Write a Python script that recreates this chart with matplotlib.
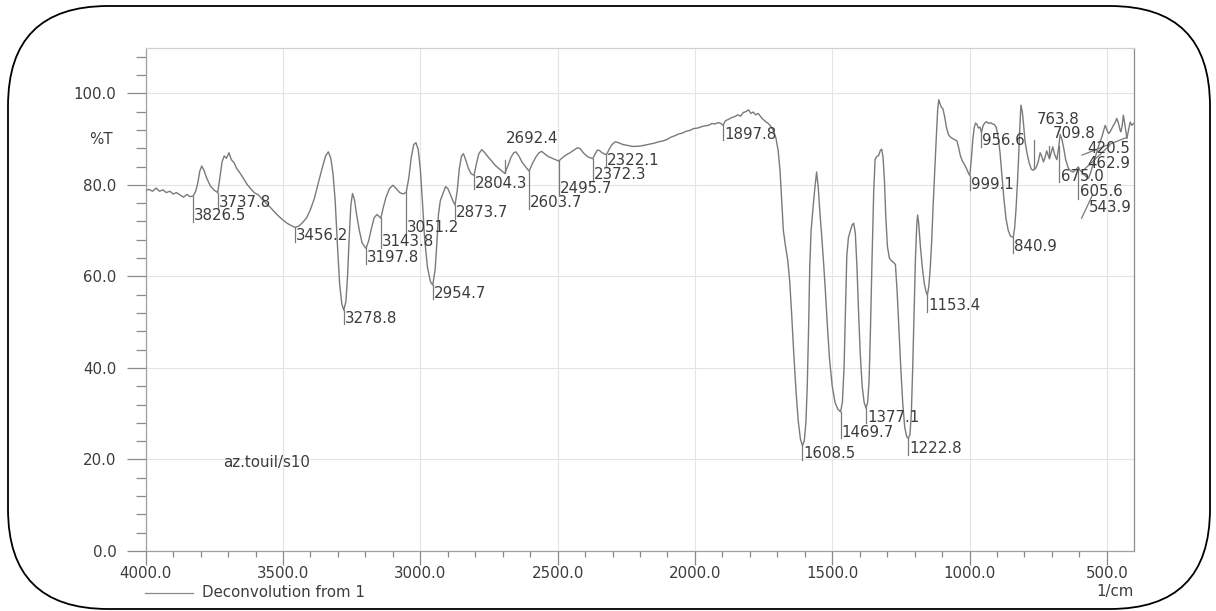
import numpy as np
import matplotlib
matplotlib.use("Agg")
import matplotlib.pyplot as plt
from matplotlib.patches import FancyBboxPatch
from matplotlib.ticker import MultipleLocator, FixedLocator, FormatStrFormatter
import matplotlib.transforms as mtransforms

# ---------------- data ----------------
wavenumber = [
    4000, 3988, 3975, 3962, 3950, 3937, 3925, 3912, 3900, 3888, 3875, 3862, 3850, 3838,
    3826.5, 3818, 3810, 3803, 3796, 3788, 3778, 3765, 3750, 3737.8, 3730, 3722, 3714,
    3706, 3697, 3688, 3678, 3669, 3657, 3645, 3632, 3620, 3605, 3590, 3575, 3560, 3545,
    3530, 3515, 3500, 3485, 3470, 3456.2, 3442, 3428, 3414, 3400, 3386, 3372, 3358, 3345,
    3335, 3326, 3318, 3310, 3302, 3294, 3286, 3278.8, 3271, 3265, 3259, 3253, 3247, 3240,
    3232, 3222, 3212, 3197.8, 3188, 3178, 3168, 3158, 3150, 3143.8, 3135, 3125, 3112, 3100,
    3088, 3075, 3062, 3051.2, 3042, 3033, 3024, 3016, 3008, 3000, 2992, 2984, 2974, 2963,
    2954.7, 2946, 2940, 2934, 2927, 2918, 2908, 2900, 2890, 2880, 2873.7, 2866, 2858, 2850,
    2843, 2835, 2825, 2815, 2804.3, 2796, 2787, 2776, 2765, 2752, 2740, 2728, 2715, 2703,
    2692.4, 2682, 2670, 2660, 2652, 2643, 2630, 2615, 2603.7, 2593, 2580, 2568, 2558, 2548,
    2535, 2520, 2508, 2495.7, 2483, 2470, 2455, 2440, 2428, 2418, 2405, 2390, 2380, 2372.3,
    2363, 2355, 2348, 2338, 2328, 2322.1, 2312, 2302, 2290, 2278, 2262, 2245, 2228, 2212,
    2196, 2180, 2164, 2148, 2132, 2116, 2102, 2088, 2074, 2060, 2046, 2032, 2018, 2004,
    1990, 1976, 1962, 1950, 1938, 1926, 1915, 1905, 1897.8, 1889, 1878, 1866, 1855, 1844,
    1834, 1824, 1814, 1805, 1796, 1788, 1779, 1770, 1762, 1752, 1742, 1733, 1724, 1714,
    1705, 1697, 1690, 1684, 1678, 1670, 1662, 1655, 1648, 1640, 1632, 1624, 1616, 1608.5,
    1602, 1596, 1591, 1586, 1582, 1577, 1570, 1563, 1557, 1551, 1545, 1538, 1531, 1525,
    1518, 1510, 1500, 1490, 1480, 1469.7, 1463, 1457, 1452, 1447, 1441, 1434, 1428, 1422,
    1416, 1410, 1404, 1398, 1391, 1384, 1377.1, 1371, 1366, 1361, 1355, 1349, 1344, 1338,
    1331, 1325, 1320, 1315, 1310, 1305, 1299, 1292, 1284, 1276, 1270, 1264, 1257, 1250,
    1243, 1236, 1229, 1222.8, 1217, 1212, 1207, 1202, 1197, 1192, 1189, 1185, 1179, 1172,
    1165, 1158, 1153.4, 1148, 1143, 1138, 1133, 1127, 1121, 1116, 1112, 1108, 1103, 1097,
    1091, 1084, 1077, 1071, 1064, 1058, 1052, 1046, 1040, 1034, 1027, 1020, 1013, 1006,
    999.1, 993, 988, 983, 978, 973, 968, 962, 956.6, 951, 945, 938, 931, 924, 917, 910,
    903, 896, 889, 882, 875, 867, 859, 851, 845, 840.9, 836, 831, 826, 821, 817, 813, 808,
    803, 798, 791, 783, 775, 768, 763.8, 758, 750, 743, 737, 731, 725, 719, 714, 709, 703,
    697, 691, 686, 682, 676, 670, 664, 658, 650, 640, 631, 622, 616, 610, 604, 598, 591,
    584, 577, 567, 560, 550, 542, 530, 518, 512, 506, 500, 494, 488, 482, 476, 470, 464,
    458, 452, 449, 444, 440, 434, 427, 421, 415, 409, 403,
]
transmittance = [
    78.8, 79.0, 78.6, 79.3, 78.6, 78.9, 78.3, 78.6, 78.0, 78.3, 77.8, 77.3, 77.9, 77.4,
    77.6, 78.6, 80.5, 83.0, 84.1, 83.2, 81.5, 79.8, 78.8, 78.3, 81.5, 85.0, 86.3,
    85.8, 87.0, 85.5, 84.8, 83.6, 82.6, 81.5, 80.2, 79.3, 78.3, 77.8, 76.8, 75.9, 75.0,
    74.0, 73.1, 72.3, 71.6, 71.1, 70.7, 71.0, 71.8, 72.8, 74.6, 77.0, 80.3, 83.5, 86.3,
    87.2, 85.8, 82.5, 76.5, 67.0, 58.5, 54.0, 52.6, 54.5, 60.0, 68.5, 75.5, 78.1, 76.8,
    73.5, 70.0, 67.3, 66.1, 67.8, 70.5, 72.8, 73.5, 73.1, 72.7, 75.0, 77.3, 79.2, 79.9,
    79.2, 78.3, 78.0, 78.4, 81.5, 86.0, 88.8, 89.2, 87.8, 83.5, 76.0, 68.0, 62.0, 58.8,
    58.1, 61.5, 67.0, 73.5, 76.6, 78.0, 79.6, 79.2, 77.8, 76.3, 75.6, 78.5, 83.5, 86.3,
    86.8, 85.5, 83.6, 82.4, 82.1, 84.5, 86.8, 87.7, 87.0, 86.0, 85.2, 84.3, 83.6, 83.0,
    82.5, 84.0, 86.0, 87.0, 87.2, 86.5, 85.0, 83.8, 83.0, 84.5, 86.0, 87.0, 87.3, 86.8,
    86.2, 85.8, 85.5, 85.2, 85.9, 86.5, 87.0, 87.6, 88.1, 87.9, 86.9, 86.1, 85.9, 85.7,
    86.8, 87.6, 87.5, 87.0, 86.7, 86.6, 87.8, 88.8, 89.4, 89.2, 88.8, 88.6, 88.4, 88.4,
    88.5, 88.7, 88.9, 89.1, 89.4, 89.6, 89.9, 90.4, 90.7, 91.1, 91.3, 91.7, 91.9, 92.3,
    92.4, 92.7, 92.9, 93.0, 93.4, 93.3, 93.6, 93.4, 93.0, 94.0, 94.3, 94.7, 94.9, 95.3,
    95.0, 95.8, 96.0, 96.4, 95.6, 95.9, 95.3, 95.6, 95.0, 94.3, 93.8, 93.4, 92.8, 91.8,
    90.2, 87.5, 83.0, 76.5, 70.0, 66.5, 63.5, 59.0, 52.0, 43.0, 35.0, 28.5, 24.5, 23.0,
    24.0, 28.0, 36.0, 49.0, 62.0, 70.0, 75.0, 79.5, 82.8, 79.5, 74.0, 68.5, 62.5, 56.8,
    49.5, 42.0, 36.0, 32.5, 31.0, 30.4, 32.5, 40.0, 52.0, 64.5, 68.5, 70.0, 71.2, 71.6,
    69.5, 62.0, 52.0, 43.0, 36.0, 32.5, 31.2, 32.5, 37.0, 48.0, 64.0, 78.5, 85.5, 86.2,
    86.4, 87.5, 87.8, 86.0, 81.0, 73.0, 66.5, 64.0, 63.4, 63.0, 62.6, 57.0, 48.0, 39.5,
    32.0, 27.0, 25.0, 24.6, 25.5, 30.0, 40.0, 52.0, 64.0, 71.5, 73.4, 71.5, 66.5, 62.0,
    58.5, 56.5, 55.9, 58.0, 62.0, 67.5, 75.0, 83.0, 90.5, 96.5, 98.6, 97.8, 97.0, 96.6,
    95.0, 92.5, 91.0, 90.5, 90.2, 90.0, 89.8, 89.6, 88.2, 86.5, 85.3, 84.6, 83.8, 82.8,
    82.0, 86.0, 90.0, 92.5, 93.5, 93.2, 92.4, 92.6, 91.4, 92.9, 93.5, 93.8, 93.4, 93.6, 93.3, 93.2,
    92.6, 90.5, 87.0, 82.0, 77.0, 72.5, 70.0, 68.8, 68.6, 68.6, 70.5, 74.5, 80.0, 86.5, 92.5, 97.4, 96.0,
    93.0, 89.5, 87.0, 84.8, 83.4, 83.2, 83.4, 83.7, 85.0, 87.0, 86.2, 85.0, 86.0, 87.4, 86.5, 85.7, 87.0,
    88.3, 86.8, 86.0, 85.5, 88.0, 91.0, 90.0, 88.3, 85.5, 83.6, 83.0, 82.8, 83.2, 83.5, 83.9, 83.2, 82.8,
    82.3, 81.9, 81.4, 82.5, 84.5, 86.1, 88.5, 90.5, 91.8, 93.0, 92.0, 91.2, 91.6, 92.3, 93.0, 93.6, 94.5,
    93.5, 92.0, 91.6, 93.0, 95.2, 93.0, 90.1, 92.0, 93.7, 93.0, 93.4,
]

# labelled peaks (wavenumber values printed on the chart)
peak_values = [3826.5, 3737.8, 3456.2, 3278.8, 3197.8, 3143.8, 3051.2, 2954.7, 2873.7,
               2804.3, 2692.4, 2603.7, 2495.7, 2372.3, 2322.1, 1897.8, 1608.5, 1469.7,
               1377.1, 1222.8, 1153.4, 999.1, 956.6, 840.9, 763.8, 709.8, 675.0, 605.6,
               543.9, 462.9, 420.5]

x_ticks = [4000, 3500, 3000, 2500, 2000, 1500, 1000, 500]
y_ticks = [0, 20, 40, 60, 80, 100]
sample_name = "az.touil/s10"
legend_label = "Deconvolution from 1"

# ---------------- layout of peak labels ----------------
# value -> (leader start (x, y) or None, leader end (x, y) or end-y, text x (left) or None, text y (bottom))
label_layout = {
    3826.5: (None, 71.9, None, 71.6),
    3737.8: (None, 74.8, None, 74.5),
    3456.2: (None, 67.5, None, 67.2),
    3278.8: (None, 49.5, None, 49.2),
    3197.8: (None, 62.8, None, 62.5),
    3143.8: (None, 66.3, None, 66.0),
    3051.2: (None, 69.4, None, 69.1),
    2954.7: (None, 55.0, None, 54.7),
    2873.7: (None, 72.6, None, 72.3),
    2804.3: (None, 79.0, None, 78.7),
    2692.4: (None, 85.4, None, 88.4),
    2603.7: (None, 74.8, None, 74.5),
    2495.7: (None, 77.9, None, 77.6),
    2372.3: (None, 81.0, None, 80.7),
    2322.1: (None, 83.9, None, 83.6),
    1897.8: (None, 89.7, None, 89.4),
    1608.5: (None, 19.9, None, 19.6),
    1469.7: (None, 24.6, None, 24.3),
    1377.1: (None, 27.9, None, 27.6),
    1222.8: (None, 21.0, None, 20.7),
    1153.4: (None, 52.3, None, 52.0),
    999.1: (None, 78.8, None, 78.5),
    956.6: (None, 88.3, None, 88.0),
    840.9: (None, 65.2, None, 64.9),
    763.8: (None, 89.8, 755, 92.6),
    709.8: (None, 88.5, 696, 89.6),
    675.0: (None, 80.6, 666, 80.2),
    605.6: (None, 77.0, 596, 76.8),
    543.9: ((592, 72.7), (552, 77.8), 566, 73.5),
    462.9: ((585, 83.2), (490, 88.6), 571, 83.0),
    420.5: ((590, 86.5), (430, 90.3), 571, 86.3),
}

# ---------------- figure ----------------
W, H = 1216, 611
fig = plt.figure(figsize=(W / 100, H / 100), dpi=100)
fig.patch.set_facecolor("white")

FONT = "DejaVu Sans"
FS = 10.8
TXT = "#3c3c3c"
GRAY = "#8a8a8a"
CURVE = "#7a7a7a"

left_px, right_px, top_px, bot_px = 145.7, 1133.5, 47.5, 551.0
ax = fig.add_axes([left_px / W, 1 - bot_px / H, (right_px - left_px) / W, (bot_px - top_px) / H])

ax.set_xlim(4000, 403)
ax.set_ylim(0, 110)

ax.plot(wavenumber, transmittance, color=CURVE, lw=1.0, zorder=3)

# peak labels
wn_inc = np.array(wavenumber[::-1], dtype=float)
t_inc = np.array(transmittance[::-1], dtype=float)
for v in peak_values:
    start, end, tx, ty = label_layout[v]
    if start is None:
        y0 = float(np.interp(v, wn_inc, t_inc))
        ax.plot([v, v], [y0, end], color=CURVE, lw=0.9, zorder=3)
    else:
        ax.plot([start[0], end[0]], [start[1], end[1]], color=CURVE, lw=0.9, zorder=3)
    ax.text(v - 3 if tx is None else tx, ty, f"{v:.1f}", ha="left", va="bottom",
            fontsize=FS, family=FONT, color=TXT, zorder=4)

# sample name
ax.text(3718, 19.4, sample_name, ha="left", va="center", fontsize=FS, family=FONT, color=TXT)

# axes styling
ax.xaxis.set_major_locator(FixedLocator(x_ticks))
ax.xaxis.set_minor_locator(MultipleLocator(100))
ax.yaxis.set_major_locator(FixedLocator(y_ticks))
ax.yaxis.set_minor_locator(MultipleLocator(4))
ax.xaxis.set_major_formatter(FormatStrFormatter("%.1f"))
ax.yaxis.set_major_formatter(FormatStrFormatter("%.1f"))

ax.tick_params(axis="x", which="major", direction="out", length=10, width=0.9, color=GRAY,
               pad=0.5, labelsize=FS, labelcolor=TXT)
ax.tick_params(axis="x", which="minor", direction="out", length=4.3, width=0.9, color=GRAY)
ax.tick_params(axis="y", which="major", direction="out", length=14, width=0.9, color=GRAY,
               pad=7, labelsize=FS, labelcolor=TXT)
ax.tick_params(axis="y", which="minor", direction="out", length=7, width=0.9, color=GRAY)
for lab in ax.get_xticklabels() + ax.get_yticklabels():
    lab.set_family(FONT)

ax.grid(True, which="major", color="#e4e4e4", lw=0.8, zorder=0)
ax.set_axisbelow(True)
ax.spines["left"].set_color("#a0a0a0")
ax.spines["bottom"].set_color("#a0a0a0")
ax.spines["top"].set_color("#d0d0d0")
ax.spines["right"].set_color("#8c8c8c")
for s in ax.spines.values():
    s.set_linewidth(0.9)

# %T label and unit
trans = mtransforms.blended_transform_factory(ax.transAxes, ax.transData)
ax.text((113 - left_px) / (right_px - left_px), 89.8, "%T", ha="right", va="center",
        transform=trans, fontsize=FS, family=FONT, color=TXT)
ax.text(1.0, (bot_px - 591.7) / (bot_px - top_px), "1/cm", ha="right", va="center",
        transform=ax.transAxes, fontsize=FS, family=FONT, color=TXT, clip_on=False)

# legend-like line
fig.add_artist(plt.Line2D([145 / W, 193 / W], [1 - 593.3 / H, 1 - 593.3 / H],
                          color=GRAY, lw=0.9))
fig.text(201.7 / W, 1 - 592.5 / H, legend_label, ha="left", va="center",
         fontsize=FS, family=FONT, color=TXT)

# rounded border around whole picture
bax = fig.add_axes([0, 0, 1, 1], zorder=5)
bax.set_xlim(0, W)
bax.set_ylim(H, 0)
bax.axis("off")
bax.patch.set_alpha(0)
bax.add_patch(FancyBboxPatch((8, 6), W - 14, H - 8, boxstyle="round,pad=0,rounding_size=100",
                             facecolor="none", edgecolor="black", lw=1.3))

fig.savefig("out.png", dpi=100)
